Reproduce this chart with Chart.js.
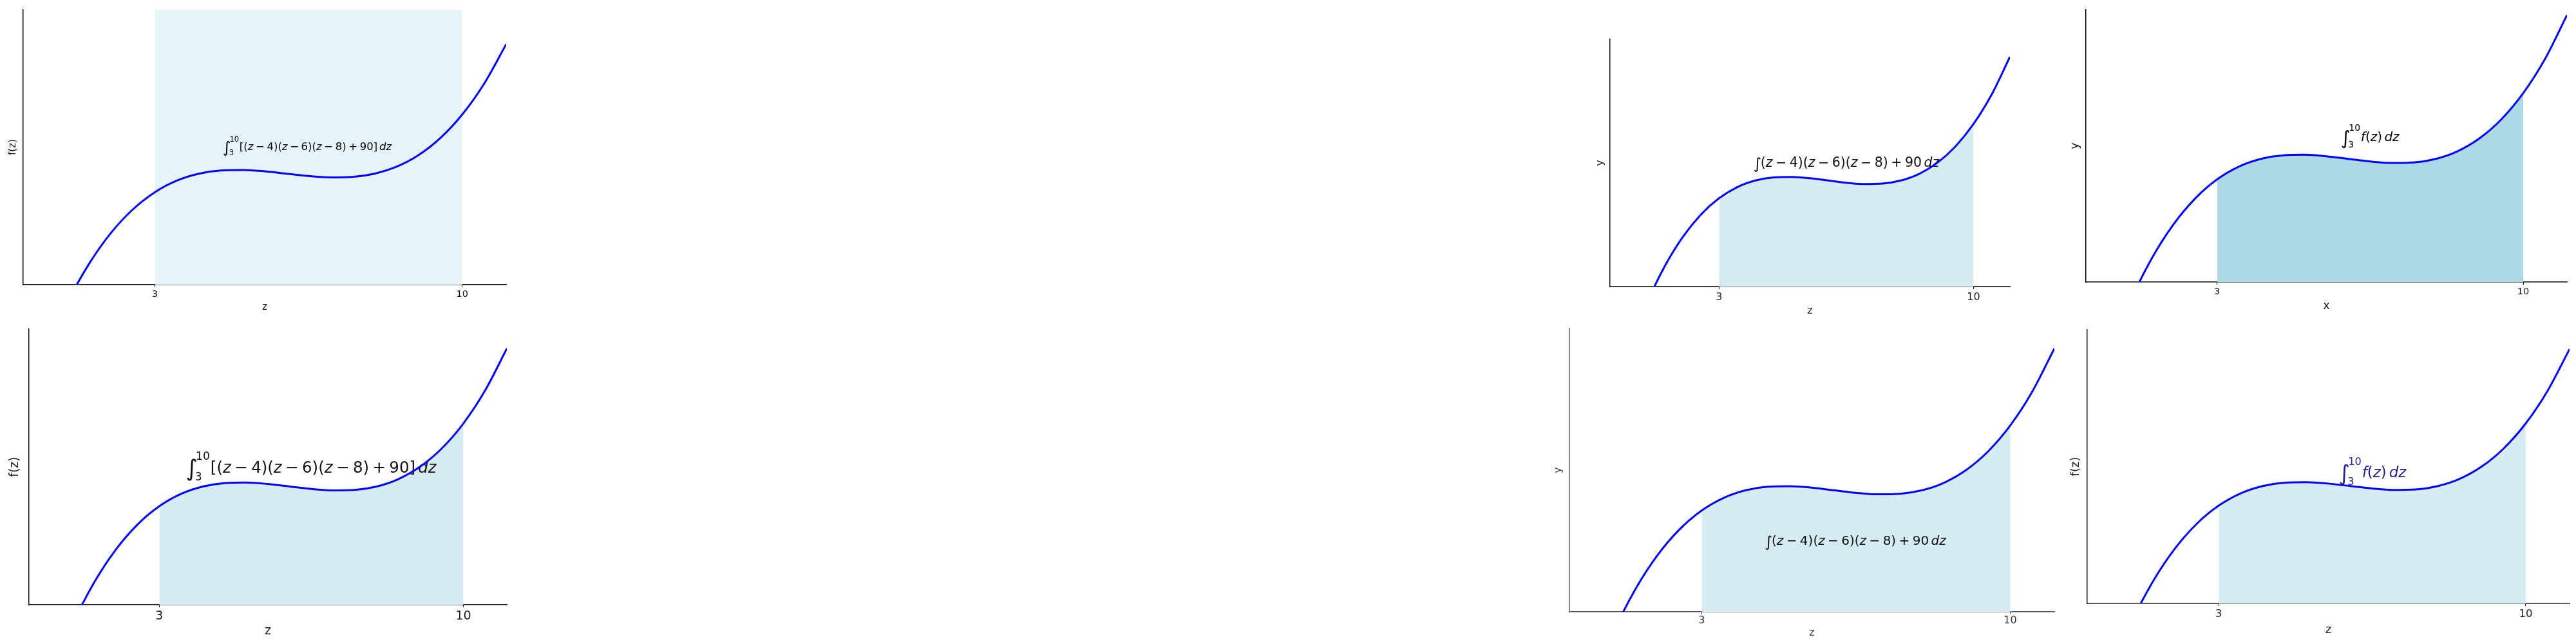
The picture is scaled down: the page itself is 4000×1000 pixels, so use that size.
<!DOCTYPE html>
<html><head><meta charset="utf-8">
<script src="https://cdn.jsdelivr.net/npm/chart.js@4.4.1/dist/chart.umd.min.js"></script>
<style>
html,body{margin:0;padding:0;background:#fff;width:4000px;height:1000px;overflow:hidden;position:relative}
canvas{position:absolute}
</style></head><body>
<script>
// ---- data ----
const zValues = [0,0.5,1,1.5,2,2.5,3,3.5,4,4.5,5,5.5,6,6.5,7,7.5,8,8.5,9,9.5,10,10.5,11];
const fValues = [-102,-54.4,-15,16.9,42,61.1,75,84.4,90,92.6,93,91.9,90,88.1,87,87.4,90,95.6,105,118.9,138,163.1,195];
const xTickValues = [3, 10];
const intervalStart = 3;
const intervalEnd = 10;
const xRange = [0, 11];
const yTops = [223, 209.85, 199, 209.85, 209.85, 209.85];
const xAxisTitles = ['z','z','x','z','z','z'];
const yAxisTitles = ['f(z)','y','y','f(z)','y','f(z)'];
const annotationKinds = ['bracketLimits','plain','fLimits','bracketLimits','plain','fLimits'];
const shadeModes = ['span','under','under','under','under','under'];

// ---- layout / style (page pixels) ----
const FAMILY = '"DejaVu Sans", sans-serif';
const panels = [
 {L:36,  T:15,  R:786,  B:442, tick:14.5, tickY:457, lab:15, xlabY:477, ylabX:20,   ann:{x:477, y:228, s:16.5, c:'#000'}, fill:'#e6f3f8', axis:'#000', text:'#111'},
 {L:2500,T:61,  R:3121, B:445, tick:16,   tickY:462, lab:16, xlabY:483, ylabX:2485, ann:{x:2867,y:253, s:20.5, c:'#111'}, fill:'#d6ebf2', axis:'#111', text:'#222'},
 {L:3239,T:15,  R:3986, B:438, tick:14.5, tickY:453, lab:17, xlabY:476, ylabX:3223, ann:{x:3680,y:213, s:20,   c:'#000'}, fill:'#add8e6', axis:'#000', text:'#111'},
 {L:45,  T:511, R:787,  B:939, tick:19,   tickY:957, lab:19, xlabY:980, ylabX:23,   ann:{x:483, y:726, s:24.5, c:'#111'}, fill:'#d6ebf2', axis:'#111', text:'#222'},
 {L:2437,T:510, R:3190, B:950, tick:16,   tickY:964, lab:15, xlabY:983, ylabX:2420, ann:{x:2881,y:840, s:20,   c:'#111'}, fill:'#d6ebf2', axis:'#555', text:'#333'},
 {L:3241,T:512, R:3990, B:937, tick:16.5, tickY:954, lab:18, xlabY:978, ylabX:3223, ann:{x:3684,y:734, s:23,   c:'#22228c'}, fill:'#d6ebf2', axis:'#111', text:'#222'}
];
const mL = 36, mT = 10, mR = 10, mB = 50, TICKLEN = 4;

// ---- math text tokens ----
const G = e => ({gap:e});
const Z = {t:'z', it:true};
function op(sym){ return [G(0.22), {t:sym}, G(0.22)]; }
function tokensFor(kind){
  if (kind === 'bracketLimits') return [
    {int:true, big:true}, {stack:{sup:'10', sub:'3'}},
    {t:'[('}, Z, ...op('−'), {t:'4'}, {t:')('}, Z, ...op('−'), {t:'6'}, {t:')('}, Z, ...op('−'), {t:'8'}, {t:')'}, ...op('+'), {t:'90]'}, G(0.17), {t:'dz', it:true}];
  if (kind === 'plain') return [
    {int:true, big:false}, {t:'('}, Z, ...op('−'), {t:'4'}, {t:')('}, Z, ...op('−'), {t:'6'}, {t:')('}, Z, ...op('−'), {t:'8'}, {t:')'}, ...op('+'), {t:'90'}, G(0.17), {t:'dz', it:true}];
  return [{int:true, big:true}, {stack:{sup:'10', sub:'3'}}, {t:'f', it:true}, {t:'('}, Z, {t:')'}, G(0.17), {t:'dz', it:true}];
}
function fontStr(size, it){ return (it ? 'italic ' : '') + size.toFixed(2) + 'px ' + FAMILY; }
function drawMath(ctx, tokens, cx, cyMid, S, color){
  const items = []; let w = 0;
  for (const tk of tokens){
    if (tk.gap !== undefined){ w += tk.gap * S; continue; }
    if (tk.int){
      const sz = S * (tk.big ? 1.45 : 1.15);
      ctx.font = fontStr(sz, false);
      const tw = ctx.measureText('∫').width;
      items.push({t:'∫', x:w, font:ctx.font, dy:(tk.big ? 0.22 : 0.12) * S});
      w += tw * (tk.big ? 0.85 : 0.9);
      continue;
    }
    if (tk.stack){
      const sz = S * 0.7;
      ctx.font = fontStr(sz, false);
      const w1 = ctx.measureText(tk.stack.sup).width, w2 = ctx.measureText(tk.stack.sub).width;
      items.push({t:tk.stack.sup, x:w, font:ctx.font, dy:-0.82 * S});
      items.push({t:tk.stack.sub, x:w - 0.05 * S, font:ctx.font, dy:0.5 * S});
      w += Math.max(w1, w2) + 0.04 * S;
      continue;
    }
    ctx.font = fontStr(S, tk.it);
    const tw = ctx.measureText(tk.t).width;
    items.push({t:tk.t, x:w, font:ctx.font, dy:0});
    w += tw;
  }
  const x0 = cx - w / 2, base = cyMid + 0.31 * S;
  ctx.save();
  ctx.fillStyle = color; ctx.textBaseline = 'alphabetic'; ctx.textAlign = 'left';
  for (const it of items){ ctx.font = it.font; ctx.fillText(it.t, x0 + it.x, base + it.dy); }
  ctx.restore();
}

// ---- build charts ----
const curvePoints = zValues.map((z, i) => ({x:z, y:fValues[i]}));
panels.forEach((p, k) => {
  const cL = p.L - mL, cT = p.T - mT;
  const W = p.R - p.L + mL + mR, H = p.B - p.T + mT + mB;
  const cv = document.createElement('canvas');
  cv.width = W; cv.height = H;
  cv.style.left = cL + 'px'; cv.style.top = cT + 'px';
  cv.style.width = W + 'px'; cv.style.height = H + 'px';
  document.body.appendChild(cv);

  const yTop = yTops[k];
  const shadePts = shadeModes[k] === 'span'
    ? [{x:intervalStart, y:yTop}, {x:intervalEnd, y:yTop}]
    : curvePoints.filter(pt => pt.x >= intervalStart && pt.x <= intervalEnd);

  const tickLH = p.tick * 1.2, labLH = p.lab * 1.2;
  const annPlugin = {
    id:'ann' + k,
    afterDatasetDraw(chart, args){
      if (args.index !== 1) return;
      drawMath(chart.ctx, tokensFor(annotationKinds[k]), p.ann.x - cL, p.ann.y - cT, p.ann.s, p.ann.c);
    }
  };

  new Chart(cv, {
    type:'line',
    data:{datasets:[
      {data:curvePoints, borderColor:'#0000ff', borderWidth:3, pointRadius:0, fill:false, cubicInterpolationMode:'monotone'},
      {data:shadePts, borderWidth:0, borderColor:'rgba(0,0,0,0)', pointRadius:0, fill:'origin', backgroundColor:p.fill,
       cubicInterpolationMode: shadeModes[k] === 'span' ? 'default' : 'monotone', tension: shadeModes[k] === 'span' ? 0 : 0.4}
    ]},
    options:{
      responsive:false, animation:false, events:[],
      layout:{padding:{left:0, top:mT, right:mR, bottom:0}},
      plugins:{legend:{display:false}, tooltip:{enabled:false}},
      scales:{
        x:{type:'linear', min:xRange[0], max:xRange[1],
           afterBuildTicks(s){ s.ticks = xTickValues.map(v => ({value:v})); },
           afterFit(s){ s.height = mB; },
           grid:{display:true, drawOnChartArea:false, drawTicks:true, tickLength:TICKLEN, color:p.axis, lineWidth:1},
           border:{display:true, color:p.axis, width:1.5},
           ticks:{color:p.text, font:{family:FAMILY, size:p.tick}, maxRotation:0, autoSkip:false,
                  padding: p.tickY - p.B - TICKLEN - tickLH / 2},
           title:{display:true, text:xAxisTitles[k], color:p.text, font:{family:FAMILY, size:p.lab},
                  padding:{top:0, bottom: p.B + mB - labLH / 2 - p.xlabY}}
        },
        y:{type:'linear', min:0, max:yTop,
           afterFit(s){ s.width = mL; },
           grid:{display:false},
           border:{display:true, color:p.axis, width:1.5},
           ticks:{display:false},
           title:{display:true, text:yAxisTitles[k], color:p.text, font:{family:FAMILY, size:p.lab},
                  padding:{top: (p.ylabX - cL) - labLH / 2, bottom:0}}
        }
      }
    },
    plugins:[annPlugin]
  });
});
</script>
</body></html>
